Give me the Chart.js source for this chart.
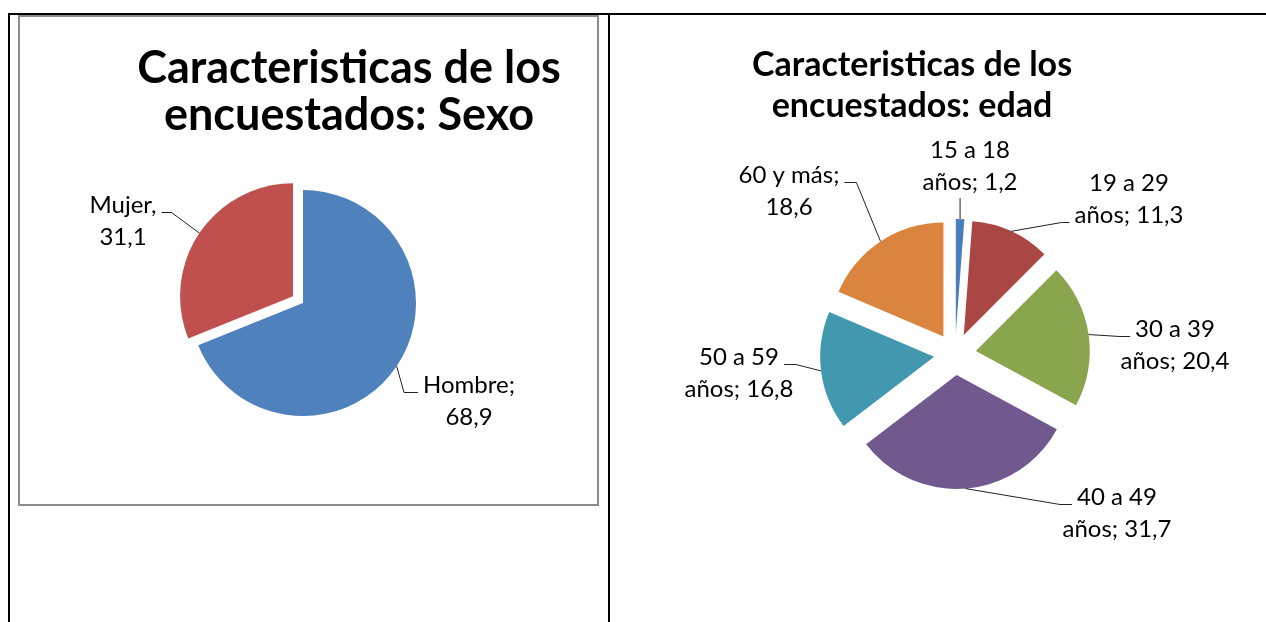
<!DOCTYPE html>
<html lang="es">
<head>
<meta charset="utf-8">
<title>Caracteristicas de los encuestados</title>
<script src="https://cdn.jsdelivr.net/npm/chart.js@4.4.1/dist/chart.umd.min.js"></script>
<style>
  html, body { margin: 0; padding: 0; background: #fff; }
  body { width: 1266px; height: 622px; position: relative; overflow: hidden; }
  .rule { position: absolute; background: #000; }
  #frame { position: absolute; left: 18px; top: 15px; width: 581px; height: 491px; box-sizing: border-box; border: 2px solid #8a8a8a; }
  canvas { position: absolute; }
  #sexo { left: 20px; top: 17px; }
  #edad { left: 612px; top: 16px; }
</style>
</head>
<body>
<div class="rule" style="left:8px;top:13px;width:1258px;height:2px"></div>
<div class="rule" style="left:8px;top:13px;width:2px;height:609px"></div>
<div class="rule" style="left:608px;top:13px;width:2px;height:609px"></div>
<div id="frame"></div>
<canvas id="sexo" width="577" height="487"></canvas>
<canvas id="edad" width="654" height="606"></canvas>
<script>
// Sexo
const sexoCategories = ['Hombre', 'Mujer'];
const sexoValues = [68.9, 31.1];
const sexoSeparators = [';', ','];
const sexoColors = ['#4F81BD', '#C0504D'];

// Edad
const edadCategories = ['15 a 18 años', '19 a 29 años', '30 a 39 años', '40 a 49 años', '50 a 59 años', '60 y más'];
const edadValues = [1.2, 11.3, 20.4, 31.7, 16.8, 18.6];
const edadColors = ['#4A7EBB', '#AA4643', '#89A54E', '#71588F', '#4198AF', '#DB843D'];

const LABEL_FONT = '24px Lato';
const LABEL_LINE = 32;

const fmt = v => v.toFixed(1).replace('.', ',');

// exploded slices move out whole along their middle angle (no shrinking)
Chart.ArcElement.prototype.draw = function (ctx) {
    const mid = (this.startAngle + this.endAngle) / 2;
    const shift = this.options.offset || 0;
    ctx.save();
    ctx.translate(Math.cos(mid) * shift, Math.sin(mid) * shift);
    ctx.beginPath();
    ctx.moveTo(this.x, this.y);
    ctx.arc(this.x, this.y, this.outerRadius, this.startAngle, this.endAngle);
    ctx.closePath();
    ctx.fillStyle = this.options.backgroundColor;
    ctx.fill();
    ctx.restore();
};

// title + data labels with leader lines
// layout rows: [dx, dy from pie centre to label centre/first baseline, side the line leaves from, line row, stub]
function pieText(title, labels, layout) {
    return {
        id: 'pieText',
        afterDatasetsDraw(chart) {
            const ctx = chart.ctx;
            const arcs = chart.getDatasetMeta(0).data;
            ctx.save();
            ctx.fillStyle = '#000';
            ctx.textAlign = 'center';
            ctx.textBaseline = 'alphabetic';
            ctx.font = title.font;
            title.lines.forEach((t, i) => ctx.fillText(t, title.x, title.y + i * title.lineHeight));

            ctx.font = LABEL_FONT;
            ctx.strokeStyle = '#222';
            ctx.lineWidth = 1;
            arcs.forEach((arc, i) => {
                const [dx, dy, side, row, stub] = layout[i];
                const lines = labels[i];
                const x = arc.x + dx;
                const y = arc.y + dy;
                lines.forEach((t, k) => ctx.fillText(t, x, y + k * LABEL_LINE));

                const mid = (arc.startAngle + arc.endAngle) / 2;
                const reach = (arc.options.offset || 0) + arc.outerRadius;
                const ax = arc.x + Math.cos(mid) * reach;
                const ay = arc.y + Math.sin(mid) * reach;
                let hx, hy;
                if (side === 'bottom') {
                    hx = ax;
                    hy = y + (lines.length - 1) * LABEL_LINE + 8;
                } else {
                    const w = ctx.measureText(lines[row]).width;
                    hy = Math.round(y + row * LABEL_LINE - 1) + 0.5;
                    hx = side === 'left' ? x - w / 2 - 5 : x + w / 2 + 5;
                }
                const ex = side === 'left' ? hx - stub : side === 'right' ? hx + stub : hx;
                ctx.beginPath();
                ctx.moveTo(hx, hy);
                ctx.lineTo(ex, hy);
                ctx.lineTo(ax, ay);
                ctx.stroke();
            });
            ctx.restore();
        }
    };
}

function pieConfig(categories, values, colors, offsets, radius, padding, plugin) {
    return {
        type: 'pie',
        data: {
            labels: categories,
            datasets: [{
                data: values,
                backgroundColor: colors,
                borderWidth: 0,
                offset: offsets
            }]
        },
        options: {
            responsive: false,
            animation: false,
            events: [],
            radius: radius,
            layout: { padding: padding },
            plugins: {
                legend: { display: false },
                tooltip: { enabled: false },
                title: { display: false }
            }
        },
        plugins: [plugin]
    };
}

const sexoLabels = sexoCategories.map((c, i) => [c + sexoSeparators[i], fmt(sexoValues[i])]);
const edadLabels = edadCategories.map((c, i) => c.endsWith(' años')
    ? [c.slice(0, -5), 'años; ' + fmt(edadValues[i])]
    : [c + ';', fmt(edadValues[i])]);

new Chart(document.getElementById('sexo'), pieConfig(
    sexoCategories, sexoValues, sexoColors, [0, 12], 113,
    { left: 0, right: 11, top: 85, bottom: 0 },
    pieText(
        { lines: ['Caracteristicas de los', 'encuestados: Sexo'], font: 'bold 45px Lato', x: 329, y: 66, lineHeight: 47 },
        sexoLabels,
        [
            [166, 90, 'left', 0, 14],
            [-180, -90, 'right', 0, 10]
        ]
    )
));

new Chart(document.getElementById('edad'), pieConfig(
    edadCategories, edadValues, edadColors, 21, 114,
    { left: 32, right: 0, top: 70, bottom: 0 },
    pieText(
        { lines: ['Caracteristicas de los', 'encuestados: edad'], font: 'bold 34px Lato', x: 300, y: 60, lineHeight: 41 },
        edadLabels,
        [
            [15, -196, 'bottom', 1, 0],
            [174, -163, 'left', 1, 8],
            [220, -17, 'left', 0, 10],
            [162, 151, 'left', 0, 12],
            [-216, 11, 'right', 0, 12],
            [-166, -171, 'right', 0, 12]
        ]
    )
));
</script>
</body>
</html>
